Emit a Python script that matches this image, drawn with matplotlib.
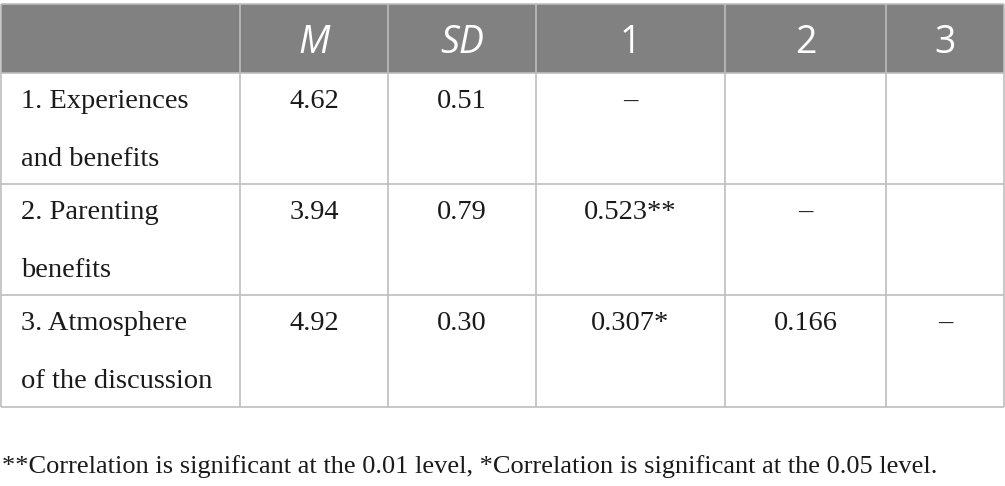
"""
Descriptive statistics and correlations table
"""
import matplotlib.pyplot as plt
from matplotlib.patches import Rectangle

# data
headers = ["", "M", "SD", "1", "2", "3"]
header_italic = [False, True, True, False, False, False]
variables = ["1. Experiences\nand benefits",
             "2. Parenting\nbenefits",
             "3. Atmosphere\nof the discussion"]
means = [4.62, 3.94, 4.92]
sds = [0.51, 0.79, 0.30]
corr = [["–", "", ""],
        ["0.523**", "–", ""],
        ["0.307*", "0.166", "–"]]
footnote = ("**Correlation is significant at the 0.01 level, "
            "*Correlation is significant at the 0.05 level.")

# layout (pixels)
W, H = 1005, 486
col_edges = [1, 240, 388, 536, 725, 886, 1004]
head_top, head_bot = 4, 73
row_edges = [73, 184, 295, 407]
line_off = [35, 93]
grid_col = '#bdbdbd'
head_col = '#808180'
text_col = '#1a1a1a'
serif = 'Liberation Serif'
sans = 'Open Sans'

fig = plt.figure(figsize=(W / 100, H / 100), dpi=100)
ax = fig.add_axes([0, 0, 1, 1])
ax.set_xlim(0, W)
ax.set_ylim(H, 0)
ax.axis('off')

# 表头
ax.add_patch(Rectangle((col_edges[0], head_top), col_edges[-1] - col_edges[0],
                       head_bot - head_top, facecolor=head_col, edgecolor='none'))
for j, h in enumerate(headers):
    if not h:
        continue
    cx = (col_edges[j] + col_edges[j + 1]) / 2
    ax.text(cx, 53, h, ha='center', va='baseline', color='white',
            fontsize=27, family=sans, style='italic' if header_italic[j] else 'normal')

# 数据行
for i, var in enumerate(variables):
    top = row_edges[i]
    for k, line in enumerate(var.split("\n")):
        ax.text(21, top + line_off[k], line, ha='left', va='baseline',
                color=text_col, fontsize=20.5, family=serif)
    cells = [f"{means[i]:.2f}", f"{sds[i]:.2f}"] + corr[i]
    for j, val in enumerate(cells):
        if not val:
            continue
        cx = (col_edges[j + 1] + col_edges[j + 2]) / 2
        ax.text(cx, top + line_off[0], val, ha='center', va='baseline',
                color=text_col, fontsize=20.5, family=serif)

# 网格线
lw = 1.2
for x in col_edges:
    ax.plot([x, x], [head_top, row_edges[-1]], color=grid_col, lw=lw,
            solid_capstyle='butt')
for y in [head_top] + row_edges:
    ax.plot([col_edges[0], col_edges[-1]], [y, y], color=grid_col, lw=lw,
            solid_capstyle='butt')

ax.text(2, 473, footnote, ha='left', va='baseline', color=text_col,
        fontsize=19, family=serif)

fig.savefig('out.png', dpi=100)
